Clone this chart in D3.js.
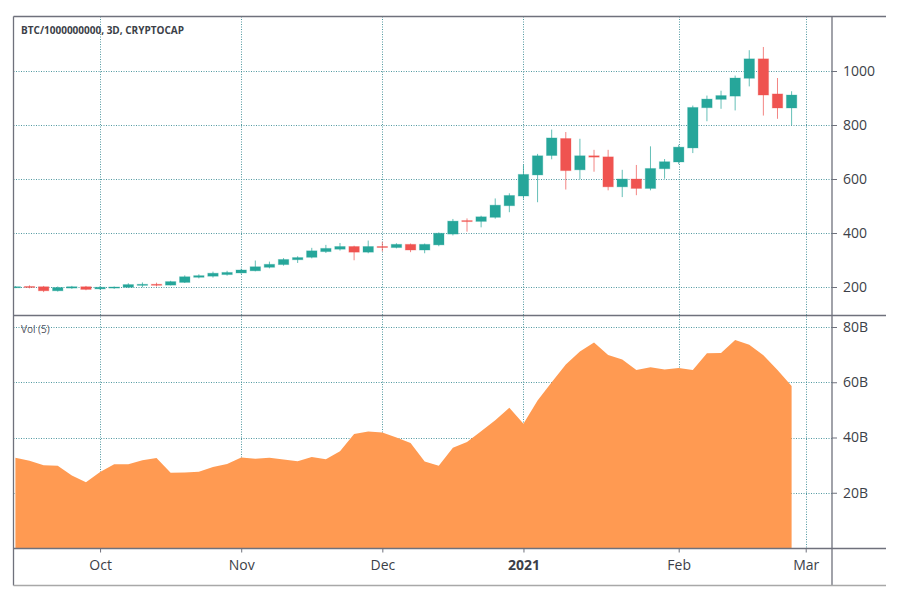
<!DOCTYPE html>
<html>
<head>
<meta charset="utf-8">
<script src="https://cdn.jsdelivr.net/npm/d3@7"></script>
<style>
	html, body { margin: 0; padding: 0; background: #fff; }
	svg { display: block; }
	text { font-family: "Open Sans", "Noto Sans", sans-serif; }
	.grid { stroke: #3f8f97; stroke-width: 1; stroke-dasharray: 1 1.5; opacity: 0.9; }
	.border { stroke: #6f717c; stroke-width: 1.3; fill: none; }
	.axis text { font-size: 14px; fill: #3c3f48; }
	.axis line { stroke: #6f717c; }
	.axis path { display: none; }
</style>
</head>
<body>
<div id="container"></div>
<script>
// one entry per 3 day candle
var opens = [198,202,201,186,196,201,193,196,199,206,210,207,217,236,240,246,252,260,273,283,301,
	310,331,340,350,329,350,346,358,337,356,396,446,443,458,501,537,615,687,750,634,686,682,571,600,
	565,638,663,715,864,895,907,973,1045,915,863];
var highs = [203,206,204,202,204,204,204,202,214,217,216,223,243,247,257,260,268,298,294,307,314,
	345,356,363,353,372,367,362,361,361,402,452,454,464,528,547,652,693,783,774,749,708,708,634,652,
	721,674,727,872,909,927,983,1077,1089,974,925];
var lows = [196,195,181,183,193,188,190,193,196,199,202,206,215,232,235,242,249,258,269,279,289,
	306,326,335,299,325,332,343,329,325,351,391,405,421,453,477,527,514,673,561,599,627,558,533,540,
	558,601,655,696,814,860,854,943,835,823,800];
var closes = [201,199,186,198,201,191,199,200,209,210,207,220,238,242,251,254,263,275,284,302,309,
	334,343,350,329,350,347,358,337,358,399,444,443,460,503,539,617,686,752,631,686,681,571,600,565,
	639,664,718,865,896,909,974,1045,911,863,911];
// Vol (5), in billions
var volumes = [32.7,31.6,30,29.8,26.2,23.8,27.5,30.3,30.3,31.8,32.6,27.2,27.3,27.6,29.3,30.4,32.8,32.3,32.7,32,31.4,
	32.9,32.1,35,41.3,42.2,41.8,40,38,31.3,29.8,36.3,38.4,42.3,46.2,50.8,45,53.4,60,66.4,71.1,
	74.4,69.9,68.2,64.4,65.4,64.6,65.2,64.4,70.5,70.6,75.3,73.6,69.8,64.4,58.6];

var priceTicks = [200, 400, 600, 800, 1000];
var volTicks = [20, 40, 60, 80];
var monthLabels = ["Oct", "Nov", "Dec", "2021", "Feb", "Mar"];
var monthIndex = [6, 16, 26, 36, 47, 56]; // candle number where each month starts

var w = 907,
	h = 596,
	left = 13.5,
	right = 832,
	top_ = 16.5,
	mid = 315.5,
	bottom = 548.5,
	end = 585.5,
	outer = 886;

var vis = d3.select("div#container").append("svg:svg")
	.attr("width", w)
	.attr("height", h);

var x = d3.scaleLinear().domain([0, 55]).range([15.4, 791.6]);
var yPrice = d3.scaleLinear().domain([200, 1000]).range([287, 71]);
var yVol = d3.scaleLinear().domain([0, 80]).range([548, 327]);
var candleW = 10.4;

// grid first so marks sit on top
vis.selectAll("line.vgrid")
	.data(monthIndex)
  .enter().append("line")
	.attr("class", "grid vgrid")
	.attr("x1", function(d) { return Math.round(x(d)) + 0.5; })
	.attr("x2", function(d) { return Math.round(x(d)) + 0.5; })
	.attr("y1", top_)
	.attr("y2", bottom);

vis.selectAll("line.pgrid")
	.data(priceTicks)
  .enter().append("line")
	.attr("class", "grid pgrid")
	.attr("x1", left)
	.attr("x2", right)
	.attr("y1", function(d) { return Math.round(yPrice(d)) + 0.5; })
	.attr("y2", function(d) { return Math.round(yPrice(d)) + 0.5; });

vis.selectAll("line.vgridh")
	.data(volTicks)
  .enter().append("line")
	.attr("class", "grid vgridh")
	.attr("x1", left)
	.attr("x2", right)
	.attr("y1", function(d) { return Math.round(yVol(d)) + 0.5; })
	.attr("y2", function(d) { return Math.round(yVol(d)) + 0.5; });

// volume area
var area = d3.area()
	.x(function(d, i) { return x(i); })
	.y0(yVol(0))
	.y1(function(d) { return yVol(d); });

vis.append("path")
	.datum(volumes)
	.attr("d", area)
	.attr("fill", "#ff9a52");

// candles
var candles = vis.selectAll("g.candle")
	.data(d3.range(opens.length))
  .enter().append("g")
	.attr("class", "candle")
	.attr("fill", function(i) { return closes[i] >= opens[i] ? "#26a69a" : "#ef5350"; })
	.attr("stroke", function(i) { return closes[i] >= opens[i] ? "#26a69a" : "#ef5350"; });

candles.append("line")
	.attr("x1", function(i) { return x(i); })
	.attr("x2", function(i) { return x(i); })
	.attr("y1", function(i) { return yPrice(highs[i]); })
	.attr("y2", function(i) { return yPrice(lows[i]); })
	.attr("stroke-width", 1)
	.attr("opacity", 0.7);

candles.append("rect")
	.attr("x", function(i) { return x(i) - candleW / 2; })
	.attr("width", candleW)
	.attr("y", function(i) { return yPrice(Math.max(opens[i], closes[i])); })
	.attr("height", function(i) { return Math.max(1, Math.abs(yPrice(opens[i]) - yPrice(closes[i]))); })
	.attr("stroke-width", 1)
	.attr("stroke-opacity", 0.3);

// frame
vis.append("rect").attr("x", 0).attr("y", 0).attr("width", left).attr("height", h).attr("fill", "#fff");

var frame = [
	[left, top_, outer, top_],
	[left, mid, outer, mid],
	[left, bottom, outer, bottom],
	[left, top_, left, end],
	[right, top_, right, end]
];
vis.selectAll("line.border")
	.data(frame)
  .enter().append("line")
	.attr("class", "border")
	.attr("x1", function(d) { return d[0]; })
	.attr("y1", function(d) { return d[1]; })
	.attr("x2", function(d) { return d[2]; })
	.attr("y2", function(d) { return d[3]; });

vis.append("line")
	.attr("x1", left).attr("x2", outer)
	.attr("y1", end).attr("y2", end)
	.attr("stroke", "#a8a8a8")
	.attr("stroke-width", 1.3);

// axes
var priceAxis = d3.axisRight(yPrice).tickValues(priceTicks).tickSize(5).tickPadding(6)
	.tickFormat(d3.format("d"));
vis.append("g").attr("class", "axis")
	.attr("transform", "translate(" + right + ",0)")
	.call(priceAxis);

var volAxis = d3.axisRight(yVol).tickValues(volTicks).tickSize(5).tickPadding(6)
	.tickFormat(function(d) { return d + "B"; });
vis.append("g").attr("class", "axis")
	.attr("transform", "translate(" + right + ",0)")
	.call(volAxis);

var timeAxis = d3.axisBottom(x).tickValues(monthIndex).tickSize(4).tickPadding(8)
	.tickFormat(function(d, i) { return monthLabels[i]; });
var timeG = vis.append("g").attr("class", "axis")
	.attr("transform", "translate(0," + bottom + ")")
	.call(timeAxis);
timeG.selectAll("text")
	.style("font-weight", function(d, i) { return monthLabels[i] == "2021" ? "bold" : "normal"; });

// labels
vis.append("text")
	.attr("x", 21).attr("y", 34)
	.attr("font-size", 10)
	.attr("font-weight", "bold")
	.attr("fill", "#3c3f48")
	.text("BTC/1000000000, 3D, CRYPTOCAP");

vis.append("text")
	.attr("x", 21).attr("y", 333)
	.attr("font-size", 10)
	.attr("fill", "#50535e")
	.text("Vol (5)");
</script>
</body>
</html>
